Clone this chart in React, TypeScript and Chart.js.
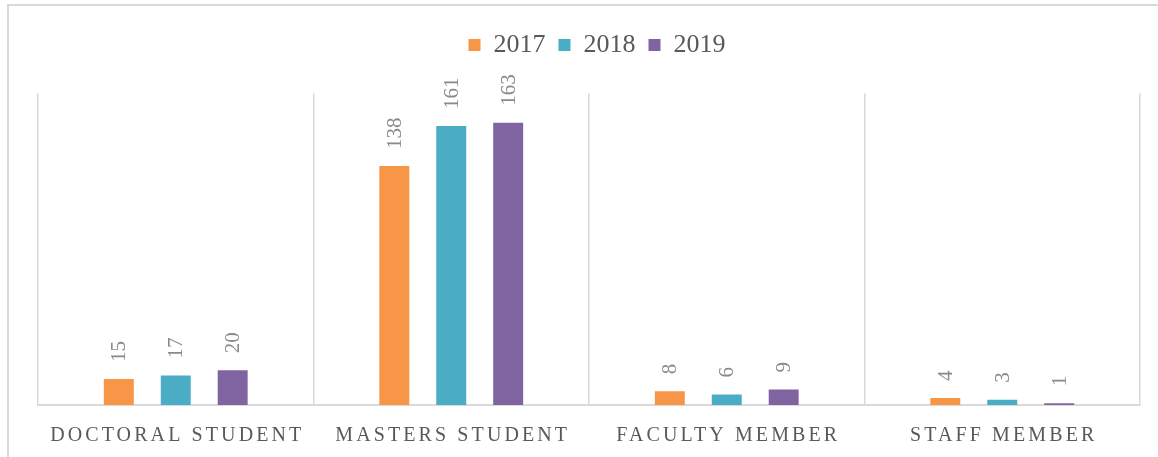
import React, { useEffect, useRef } from "react";
import { Chart, registerables } from "chart.js";

Chart.register(...registerables);

const categories = ["DOCTORAL STUDENT", "MASTERS STUDENT", "FACULTY MEMBER", "STAFF MEMBER"];
const seriesNames = ["2017", "2018", "2019"];
const values2017 = [15, 138, 8, 4];
const values2018 = [17, 161, 6, 3];
const values2019 = [20, 163, 9, 1];
const seriesColors = ["#F79646", "#4BACC6", "#8064A2"];

const FONT = "'Liberation Serif', 'DejaVu Serif', serif";

const borderPlugin = {
  id: "outerBorder",
  afterLayout(chart: any) {
    const lg = chart.legend;
    if (lg) {
      lg.left += 8;
      lg.right += 8;
      lg.top += 5;
      lg.bottom += 5;
    }
  },
  beforeDraw(chart: any) {
    const ctx = chart.ctx;
    ctx.save();
    ctx.strokeStyle = "#D9D9D9";
    ctx.lineWidth = 2;
    ctx.beginPath();
    ctx.moveTo(8, chart.height + 5);
    ctx.lineTo(8, 5);
    ctx.lineTo(chart.width + 5, 5);
    ctx.stroke();
    ctx.restore();
  },
};

const valueLabelPlugin = {
  id: "valueLabels",
  afterDatasetsDraw(chart: any) {
    const ctx = chart.ctx;
    ctx.save();
    ctx.font = `21px ${FONT}`;
    ctx.fillStyle = "#8A8A8A";
    ctx.textAlign = "left";
    ctx.textBaseline = "middle";
    chart.data.datasets.forEach((ds: any, di: number) => {
      const meta = chart.getDatasetMeta(di);
      meta.data.forEach((bar: any, i: number) => {
        ctx.save();
        ctx.translate(bar.x + 1, bar.y - 17);
        ctx.rotate(-Math.PI / 2);
        ctx.fillText(String(ds.data[i]), 0, 0);
        ctx.restore();
      });
    });
    ctx.restore();
  },
};

const categoryLabelPlugin = {
  id: "categoryLabels",
  afterDraw(chart: any) {
    const ctx = chart.ctx;
    const xs = chart.scales.x;
    ctx.save();
    ctx.font = `20px ${FONT}`;
    ctx.fillStyle = "#595959";
    ctx.textAlign = "center";
    ctx.textBaseline = "alphabetic";
    (ctx as any).letterSpacing = "3.1px";
    categories.forEach((c, i) => {
      ctx.fillText(c, xs.getPixelForValue(i) + 1.5, chart.chartArea.bottom + 36);
    });
    ctx.restore();
  },
};

export default function App() {
  const ref = useRef<HTMLCanvasElement>(null);
  useEffect(() => {
    document.body.style.margin = "0";
    const chart = new Chart(ref.current!, {
      type: "bar",
      data: {
        labels: categories,
        datasets: [
          { label: seriesNames[0], data: values2017, backgroundColor: seriesColors[0] },
          { label: seriesNames[1], data: values2018, backgroundColor: seriesColors[1] },
          { label: seriesNames[2], data: values2019, backgroundColor: seriesColors[2] },
        ],
      },
      options: {
        animation: false,
        responsive: false,
        maintainAspectRatio: false,
        datasets: { bar: { categoryPercentage: 0.62, barPercentage: 0.526 } },
        layout: { padding: { left: 38, right: 18, top: 14, bottom: 52 } },
        plugins: {
          legend: {
            position: "top",
            labels: {
              boxWidth: 12,
              boxHeight: 12,
              color: "#595959",
              font: { family: FONT, size: 26 },
              padding: 13,
            },
          },
          title: {
            display: true,
            text: "",
            position: "top",
            weight: 500,
            font: { size: 1 },
            padding: { top: 0, bottom: 29 },
          },
          tooltip: { enabled: false },
        },
        scales: {
          x: {
            offset: true,
            grid: { offset: true, color: "#D9D9D9", lineWidth: 1.5, drawTicks: false },
            border: { color: "#D9D9D9", width: 2 },
            ticks: { display: false },
          },
          y: {
            display: false,
            min: 0,
            max: 180,
          },
        },
      },
      plugins: [borderPlugin, valueLabelPlugin, categoryLabelPlugin],
    });
    return () => chart.destroy();
  }, []);
  return (
    <div style={{ width: 1158, height: 457 }}>
      <canvas ref={ref} width={1158} height={457} style={{ display: "block" }} />
    </div>
  );
}
